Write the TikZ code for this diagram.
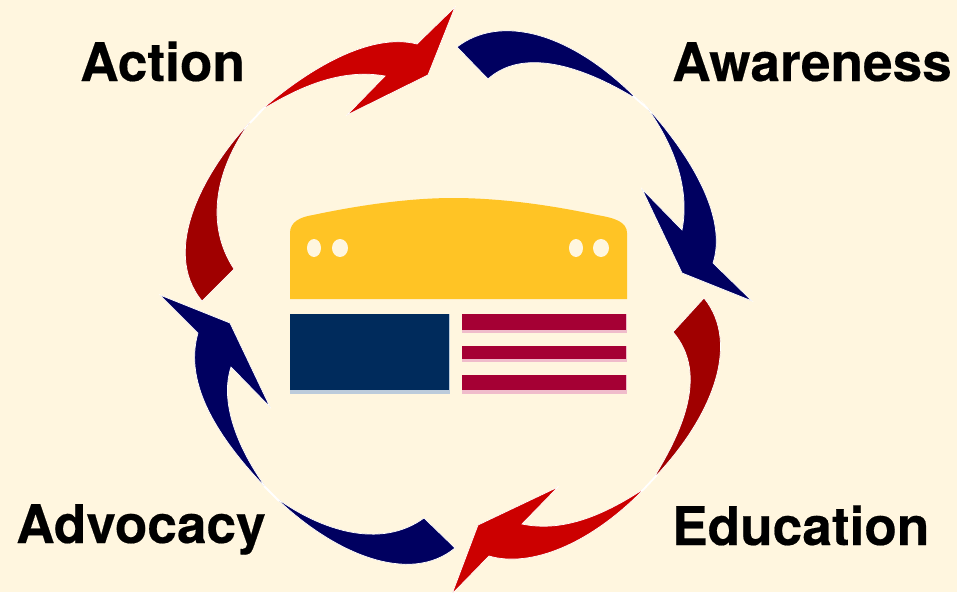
\documentclass[tikz,border=0pt]{standalone}
\usepackage{fontspec}
\setmainfont{TeX Gyre Heros}[BoldFeatures={FakeBold=0.35}]
\definecolor{bg}{HTML}{FFF6DF}
\definecolor{arrowred}{HTML}{CC0000}
\definecolor{arrowdark}{HTML}{A00000}
\definecolor{arrownavy}{HTML}{000060}
\definecolor{gold}{HTML}{FFC425}
\definecolor{flagblue}{HTML}{002B5C}
\definecolor{flagred}{HTML}{A50034}
\definecolor{blueedge}{HTML}{BCCBDB}
\definecolor{rededge}{HTML}{F0BCCB}
\tikzset{
  swoosh/.style={draw=white,line width=0.7pt,line join=miter,miter limit=30},
  seam/.style={draw=white,line width=1.8pt},
  label/.style={inner sep=0pt,anchor=base west,font=\bfseries\fontsize{53.2}{53.2}\selectfont,text=black}
}
\begin{document}
\begin{tikzpicture}[x=1pt,y=-1pt]
\useasboundingbox (0,0) rectangle (957,592);
\fill[bg] (0,0) rectangle (957,592);
% Action arrow, upper part
\path[swoosh,fill=arrowred] (260,111) .. controls (308,69) and (370,32) .. (417,44)
  -- (455,7) -- (428,75) -- (347,115) -- (385,76)
  .. controls (345,69) and (305,83) .. (260,111) -- cycle;
% Action arrow, lower part
\path[swoosh,fill=arrowdark] (250,122) .. controls (205,170) and (160,250) .. (202,301)
  -- (234,269)
  .. controls (205,225) and (215,170) .. (250,122) -- cycle;
% Awareness arrow, upper part
\path[swoosh,fill=arrownavy] (457,47) .. controls (500,14) and (570,31) .. (638,100)
  .. controls (575,61) and (520,50) .. (488,79) -- cycle;
% Awareness arrow, lower part
\path[swoosh,fill=arrownavy] (645,105) .. controls (695,160) and (727,220) .. (713,263)
  -- (752,301) -- (682,273) -- (642,189) -- (682,230)
  .. controls (690,190) and (675,145) .. (645,105) -- cycle;
% Education arrow, upper part
\path[swoosh,fill=arrowdark] (704,298) .. controls (742,345) and (710,420) .. (653,479)
  .. controls (680,435) and (710,375) .. (673,332) -- cycle;
% Education arrow, lower part
\path[swoosh,fill=arrowred] (645,488) .. controls (590,545) and (530,568) .. (489,556)
  -- (452,594) -- (478,525) -- (558,487) -- (522,524)
  .. controls (560,532) and (600,518) .. (645,488) -- cycle;
% Advocacy arrow, lower part
\path[swoosh,fill=arrownavy] (275,497) .. controls (320,530) and (380,550) .. (424,518)
  -- (455,548)
  .. controls (410,585) and (335,555) .. (275,497) -- cycle;
% Advocacy arrow, upper part
\path[swoosh,fill=arrownavy] (267,489) .. controls (220,440) and (183,385) .. (198,333)
  -- (160,295) -- (230,323) -- (270,407) -- (231,367)
  .. controls (220,400) and (235,445) .. (267,489) -- cycle;
% White seams between the two parts of each arrow
\draw[seam] (264,108) -- (250,123);
\draw[seam] (633,96) -- (648,109);
\draw[seam] (657,475) -- (642,491);
\draw[seam] (264,486) -- (279,501);
% Centre emblem
\fill[gold] (290,299) -- (290,233) .. controls (290,222) and (300,217) .. (313,215)
  .. controls (360,205) and (410,198) .. (453,198)
  .. controls (500,198) and (550,205) .. (597,215)
  .. controls (615,218) and (627,222) .. (627,233) -- (627,299) -- cycle;
\fill[bg] (314,248) ellipse[x radius=7,y radius=9];
\fill[bg] (340,248) ellipse[x radius=8,y radius=9];
\fill[bg] (576,248) ellipse[x radius=7,y radius=9];
\fill[bg] (601,248) ellipse[x radius=8,y radius=9];
\fill[blueedge] (290,314) rectangle (450,394);
\fill[flagblue] (290,314) rectangle (449,390);
\fill[rededge] (462,314) rectangle (627,333);
\fill[flagred] (462,314) rectangle (626,330);
\fill[rededge] (462,346) rectangle (627,362);
\fill[flagred] (462,346) rectangle (626,359);
\fill[rededge] (462,375) rectangle (627,394);
\fill[flagred] (462,375) rectangle (626,390);
% Labels
\node[label] (action) at (80,81) {Action};
\node[label] (awareness) at (672,81) {Awareness};
\node[label] (education) at (672,545) {Education};
\node[label] (advocacy) at (16,543) {Advocacy};
\end{tikzpicture}
\end{document}
